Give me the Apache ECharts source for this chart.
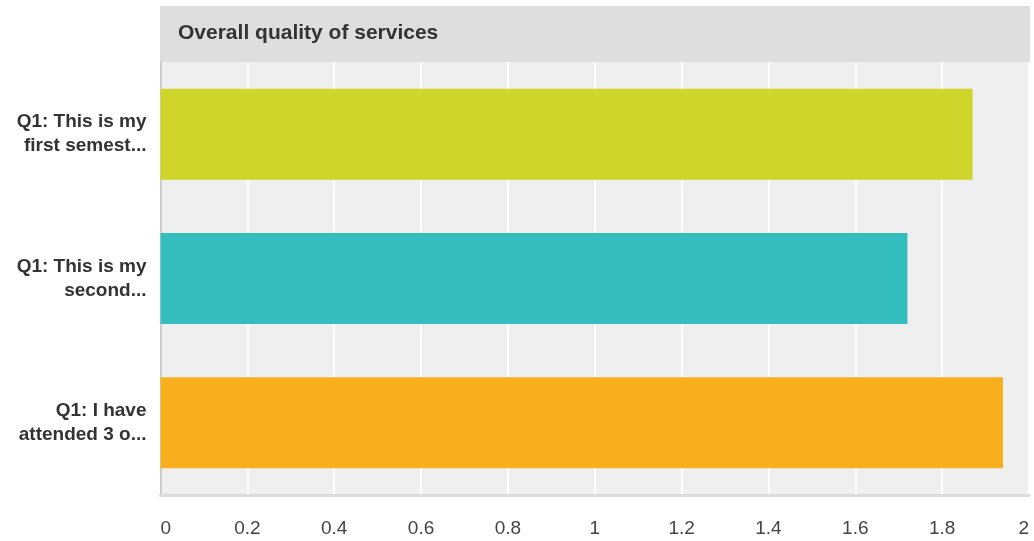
<!DOCTYPE html>
<html>
<head>
<meta charset="utf-8">
<script src="https://cdn.jsdelivr.net/npm/echarts@6/dist/echarts.min.js"></script>
<style>
html,body{margin:0;padding:0;background:#fff;}
#chart{width:1034px;height:541px;}
</style>
</head>
<body>
<div id="chart"></div>
<script>
var chartTitle = "Overall quality of services";
var categories = ["Q1: This is my\nfirst semest...", "Q1: This is my\nsecond...", "Q1: I have\nattended 3 o..."];
var values = [1.87, 1.72, 1.94];
var barColors = ["#cfd52a", "#33bdbf", "#f7af1e"];
var xTicks = [0, 0.2, 0.4, 0.6, 0.8, 1, 1.2, 1.4, 1.6, 1.8, 2];

var chart = echarts.init(document.getElementById('chart'), null, {renderer: 'canvas'});
chart.setOption({
  animation: false,
  graphic: [
    {type: 'rect', left: 160, top: 6, shape: {width: 870, height: 56}, style: {fill: '#dedede'}, z: 0},
    {type: 'text', left: 178, top: 23, style: {text: chartTitle, fill: '#333', font: 'bold 21px "Liberation Sans", Arial, sans-serif'}, z: 1}
  ],
  grid: {left: 160.5, right: 5, top: 62, bottom: 46, show: true, backgroundColor: '#efefef', borderWidth: 0, containLabel: false},
  xAxis: {
    type: 'value', min: xTicks[0], max: xTicks[xTicks.length - 1], interval: 0.2,
    axisLine: {show: true, onZero: false, lineStyle: {color: '#dcdcdc', width: 3}},
    axisTick: {show: false},
    splitLine: {show: true, lineStyle: {color: '#ffffff', width: 2}},
    axisLabel: {
      margin: 24, color: '#444', fontSize: 19, fontFamily: '"Liberation Sans", Arial, sans-serif',
      alignMinLabel: 'left', alignMaxLabel: 'right',
      formatter: function (v) { return String(Math.round(v * 10) / 10); }
    }
  },
  yAxis: {
    type: 'category', data: categories, inverse: true,
    axisLine: {show: true, lineStyle: {color: '#cccccc', width: 2}},
    axisTick: {show: false},
    splitLine: {show: false},
    axisLabel: {
      margin: 14, color: '#333', fontSize: 19, fontWeight: 'bold', lineHeight: 24,
      fontFamily: '"Liberation Sans", Arial, sans-serif', align: 'right'
    }
  },
  series: [{
    type: 'bar',
    data: values.map(function (v, i) { return {value: v, itemStyle: {color: barColors[i]}}; }),
    barCategoryGap: '37%',
    z: 3
  }]
});
</script>
</body>
</html>
